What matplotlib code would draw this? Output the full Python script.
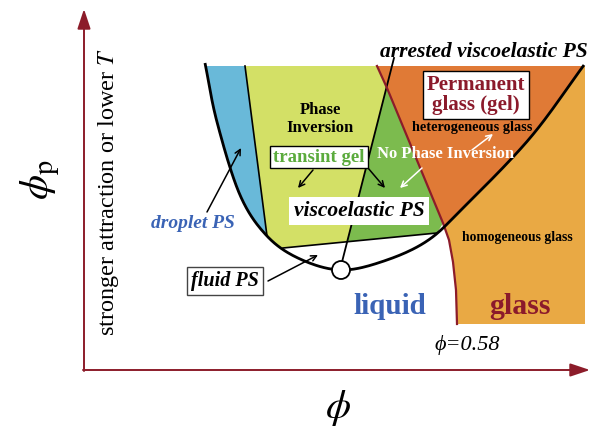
import numpy as np
import matplotlib
matplotlib.use("Agg")
import matplotlib.pyplot as plt
from matplotlib.patches import Polygon, Circle

plt.rcParams['mathtext.fontset'] = 'stix'
SERIF = ['Liberation Serif', 'DejaVu Serif']

# ---- schematic boundary curves (image coordinates, y downward) ----
binodal_x = [205, 217, 240, 267, 300, 341, 384, 427, 463, 530, 584]
binodal_y = [63, 122, 195, 236, 259, 270, 261, 241, 208, 138, 65]
droplet_line_x = [245, 267]
droplet_line_y = [66, 236]
fluid_line_x = [283, 437]
fluid_line_y = [248, 233]
arrested_line_x = [342, 394]
arrested_line_y = [262, 58]
glass_line_x = [377, 387, 443, 449, 453, 456, 457]
glass_line_y = [66, 88, 223, 240, 262, 290, 324]
region_top = 66
region_right = 585
region_bottom = 324

C_BLUE = '#69b9d9'
C_YEL = '#d3e066'
C_GREEN = '#7cbb4e'
C_DORANGE = '#e07a36'
C_LORANGE = '#e9a944'
C_AXIS = '#8c1c2a'


def smooth_curve(xs, ys, n=20):
    """Uniform Catmull-Rom curve through the given points (drawing only)."""
    p = np.column_stack([xs, ys]).astype(float)
    p = np.vstack([2 * p[0] - p[1], p, 2 * p[-1] - p[-2]])
    out = []
    t = np.linspace(0, 1, n, endpoint=False)[:, None]
    for k in range(1, len(p) - 2):
        p0, p1, p2, p3 = p[k - 1], p[k], p[k + 1], p[k + 2]
        seg = 0.5 * ((2 * p1) + (-p0 + p2) * t + (2 * p0 - 5 * p1 + 4 * p2 - p3) * t ** 2
                     + (-p0 + 3 * p1 - 3 * p2 + p3) * t ** 3)
        out.append(seg)
    out.append(p[-2][None, :])
    return np.vstack(out)


fig = plt.figure(figsize=(5.91, 4.34), dpi=100)
ax = fig.add_axes([0, 0, 1, 1])
ax.set_xlim(0, 591)
ax.set_ylim(434, 0)
ax.axis('off')

curve = smooth_curve(binodal_x, binodal_y)
imin = np.argmax(curve[:, 1])
left = curve[:imin + 1]
right = curve[imin:]

gx = np.array(glass_line_x, float); gy = np.array(glass_line_y, float)
glass_upper = [(x, y) for x, y in zip(gx, gy) if y <= 223]

# light orange (glass)
poly = list(zip(gx, gy)) + [(region_right, region_bottom), (region_right, region_top)]
ax.add_patch(Polygon(poly, closed=True, fc=C_LORANGE, ec='none', zorder=1))
# dark orange (permanent glass)
poly = glass_upper + [tuple(p) for p in right if p[0] > 443] + [(584, region_top)]
ax.add_patch(Polygon(poly, closed=True, fc=C_DORANGE, ec='none', zorder=1))

# yellow (phase inversion)
poly = [(droplet_line_x[0], droplet_line_y[0]), (droplet_line_x[1], droplet_line_y[1])]
poly += [tuple(p) for p in left if droplet_line_y[1] < p[1] < fluid_line_y[0]]
poly += [(fluid_line_x[0], fluid_line_y[0]), (fluid_line_x[1], fluid_line_y[1])]
poly += glass_upper[::-1]
ax.add_patch(Polygon(poly, closed=True, fc=C_YEL, ec='none', zorder=1))

# green (no phase inversion): between arrested line and glass line
ay = np.array(arrested_line_y, float); axx = np.array(arrested_line_x, float)
def arrested_x(y):
    return np.interp(y, ay[::-1], axx[::-1])
def fluid_y(x):
    return np.interp(x, fluid_line_x, fluid_line_y)
ys = np.linspace(66, 222, 600)
gxs = np.interp(ys, gy, gx)
i = np.argmin(np.abs(gxs - arrested_x(ys)))
cross_top = (gxs[i], ys[i])
ys2 = np.linspace(220, 260, 400)
j = np.argmin(np.abs(fluid_y(arrested_x(ys2)) - ys2))
cross_bot = (arrested_x(ys2[j]), ys2[j])
poly = [cross_top, cross_bot, (fluid_line_x[1], fluid_line_y[1])]
poly += [(x, y) for x, y in zip(gx, gy) if cross_top[1] < y <= 223][::-1]
ax.add_patch(Polygon(poly, closed=True, fc=C_GREEN, ec='none', zorder=1))

# blue (droplet PS)
poly = [tuple(p) for p in left if p[1] <= droplet_line_y[1]] + [(droplet_line_x[0], droplet_line_y[0])]
poly[0] = (poly[0][0], region_top)
ax.add_patch(Polygon(poly, closed=True, fc=C_BLUE, ec='none', zorder=1))

# lines
ax.plot(droplet_line_x, droplet_line_y, color='k', lw=1.2, zorder=3)
ax.plot(fluid_line_x, fluid_line_y, color='k', lw=1.2, zorder=3)
ax.plot(arrested_line_x, arrested_line_y, color='k', lw=1.3, zorder=3)
ax.plot(glass_line_x, glass_line_y, color=C_AXIS, lw=1.6, zorder=3)
ax.plot(curve[:, 0], curve[:, 1], color='k', lw=2.0, zorder=4, solid_capstyle='butt')
ax.add_patch(Circle((341, 270), 9, fc='white', ec='k', lw=1.3, zorder=5))

# axes arrows
ax.annotate('', xy=(84, 9), xytext=(84, 371),
            arrowprops=dict(arrowstyle='-|>,head_length=0.6,head_width=0.2', color=C_AXIS, lw=1.4,
                            mutation_scale=20, shrinkA=0, shrinkB=0))
ax.annotate('', xy=(590, 370), xytext=(83, 370),
            arrowprops=dict(arrowstyle='-|>,head_length=0.6,head_width=0.2', color=C_AXIS, lw=1.4,
                            mutation_scale=20, shrinkA=0, shrinkB=0))

# axis labels
ax.text(40, 180, r'$\phi_{\mathrm{p}}$', fontsize=29, rotation=90, ha='center', va='center')
ax.text(338, 408, r'$\phi$', fontsize=29, ha='center', va='center')
ax.text(109, 192, r'stronger attraction or lower $T$', fontsize=17.5, rotation=90, ha='center',
        va='center', family=SERIF)
ax.text(467, 345, 'ϕ=0.58', fontsize=16, style='italic', ha='center', va='center', family=SERIF)

# small arrows
def arr(x0, y0, x1, y1, c='k'):
    ax.annotate('', xy=(x1, y1), xytext=(x0, y0),
                arrowprops=dict(arrowstyle='->', color=c, lw=1.1, mutation_scale=10, shrinkA=0, shrinkB=0),
                zorder=6)
arr(207, 212, 241, 148)
arr(268, 281, 318, 255)
arr(313, 170, 298, 188)
arr(368, 168, 385, 188)
arr(422, 168, 400, 188, 'white')
arr(472, 150, 493, 134, 'white')

# text labels
ax.text(320, 119, 'Phase\nInversion', fontsize=12, weight='bold', ha='center', va='center',
        family=SERIF, linespacing=1.1, zorder=7)
ax.text(319, 157, 'transint gel', fontsize=13.5, weight='bold', color='#5bab3d', ha='center', va='center',
        family=SERIF, zorder=7,
        bbox=dict(boxstyle='square,pad=0.15', fc='white', ec='k', lw=1))
ax.text(446, 154, 'No Phase Inversion', fontsize=12, weight='bold', color='white', ha='center', va='center',
        family=SERIF, zorder=7)
ax.text(359, 211, 'viscoelastic PS', fontsize=15.5, weight='bold', style='italic', ha='center', va='center',
        family=SERIF, zorder=7,
        bbox=dict(boxstyle='square,pad=0.2', fc='white', ec='none'))
ax.text(476, 95, 'Permanent\nglass (gel)', fontsize=15, weight='bold', color='#8b1a2b', ha='center',
        va='center', family=SERIF, linespacing=0.95, zorder=7,
        bbox=dict(boxstyle='square,pad=0.2', fc='white', ec='k', lw=1))
ax.text(472, 127, 'heterogeneous glass', fontsize=10.3, weight='bold', ha='center', va='center',
        family=SERIF, zorder=7)
ax.text(517, 238, 'homogeneous glass', fontsize=9.8, weight='bold', ha='center', va='center',
        family=SERIF, zorder=7)
ax.text(390, 306, 'liquid', fontsize=21, weight='bold', color='#3a63b5', ha='center', va='center',
        family=SERIF, zorder=7)
ax.text(520, 306, 'glass', fontsize=21.5, weight='bold', color='#8b1a2b', ha='center', va='center',
        family=SERIF, zorder=7)
ax.text(193, 223, 'droplet PS', fontsize=14, weight='bold', style='italic', color='#3a63b5', ha='center',
        va='center', family=SERIF, zorder=7)
ax.text(225, 281, 'fluid PS', fontsize=14.5, weight='bold', style='italic', ha='center', va='center',
        family=SERIF, zorder=7,
        bbox=dict(boxstyle='square,pad=0.2', fc='white', ec='#444444', lw=1))
ax.text(484, 52, 'arrested viscoelastic PS', fontsize=15.5, weight='bold', style='italic', ha='center',
        va='center', family=SERIF, zorder=7)

fig.savefig('out.png', dpi=100)
